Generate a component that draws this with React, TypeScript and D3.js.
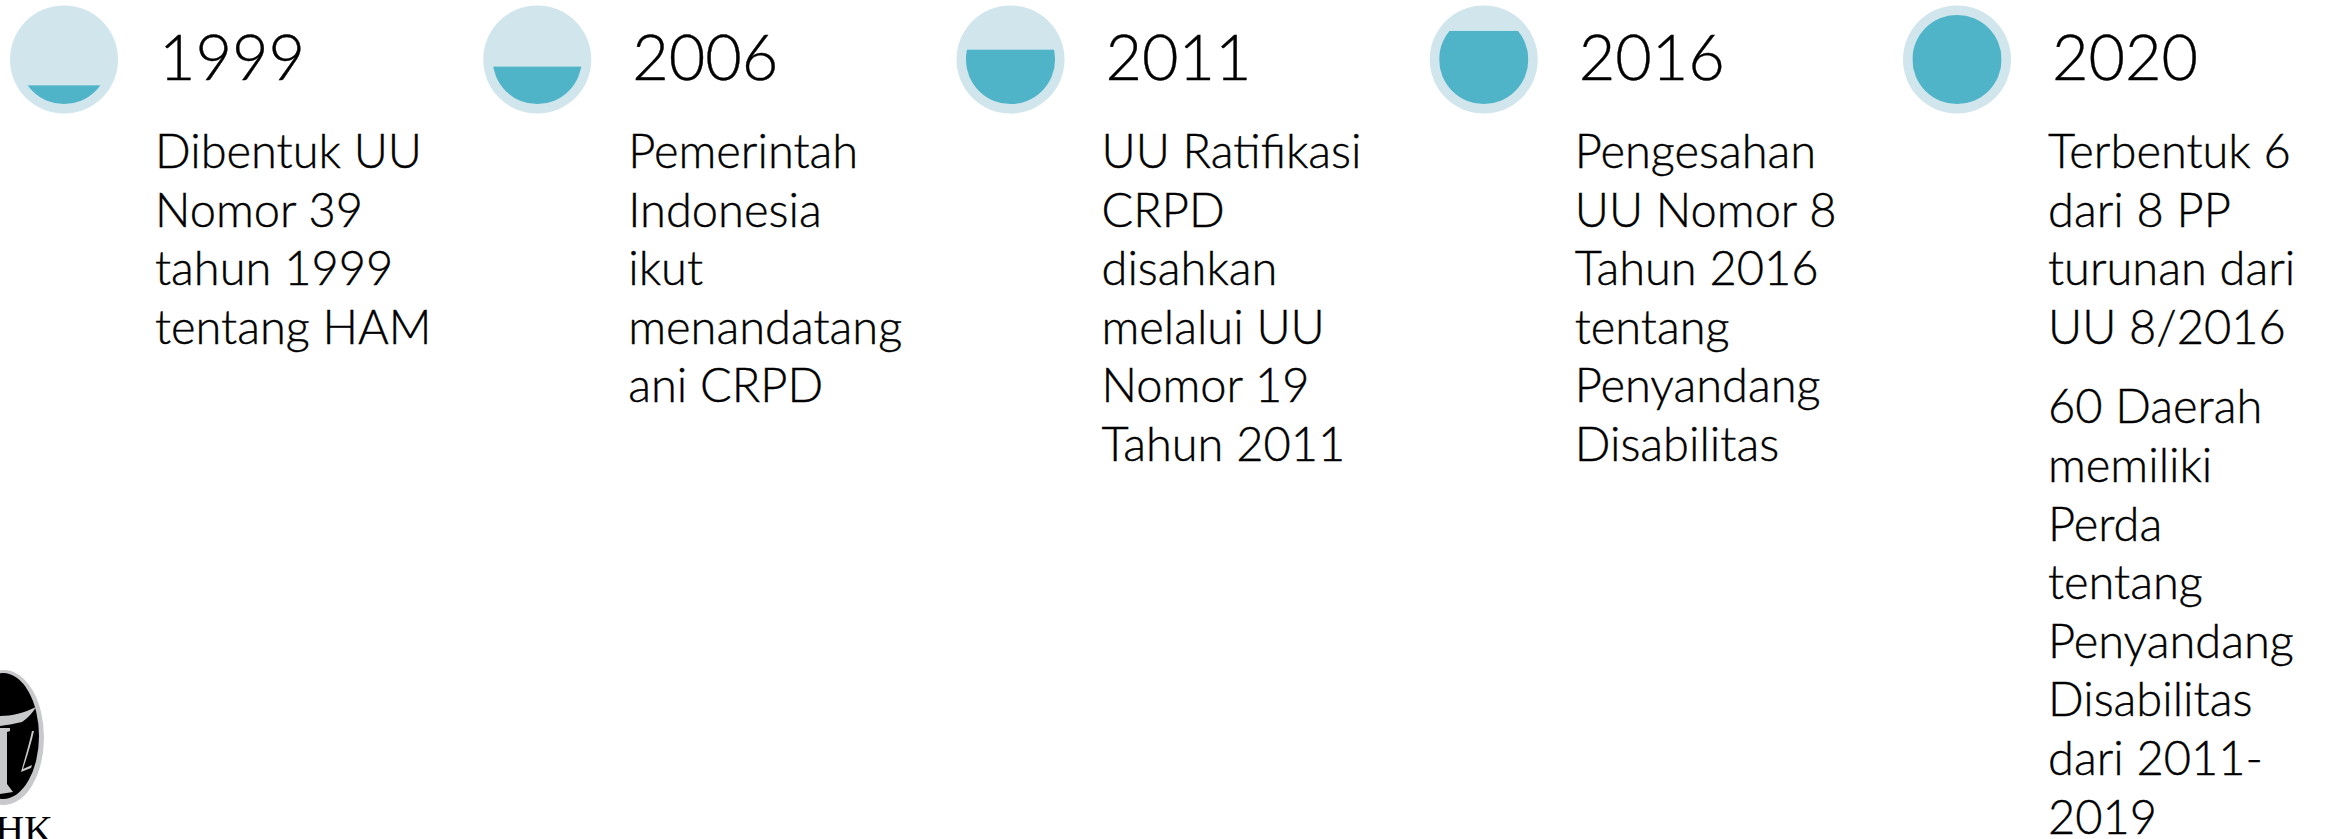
import React from "react";
import * as d3 from "d3";

const years = ["1999", "2006", "2011", "2016", "2020"];
const fillLevels = [0.21, 0.42, 0.61, 0.82, 1.0];
const descriptions: string[][][] = [
  [["Dibentuk UU", "Nomor 39", "tahun 1999", "tentang HAM"]],
  [["Pemerintah", "Indonesia", "ikut", "menandatang", "ani CRPD"]],
  [["UU Ratifikasi", "CRPD", "disahkan", "melalui UU", "Nomor 19", "Tahun 2011"]],
  [["Pengesahan", "UU Nomor 8", "Tahun 2016", "tentang", "Penyandang", "Disabilitas"]],
  [
    ["Terbentuk 6", "dari 8 PP", "turunan dari", "UU 8/2016"],
    ["60 Daerah", "memiliki", "Perda", "tentang", "Penyandang", "Disabilitas", "dari 2011-", "2019"],
  ],
];
const logoText = "PSHK";

const W = 2341;
const H = 839;
const CY = 59.5;
const R_OUT = 54;
const R_IN = 44.6;
const LINE = 58.6;
const PARA_GAP = 21;
const FONT = "Lato, 'Open Sans', sans-serif";

export default function App() {
  const x = d3.scaleLinear().domain([0, years.length - 1]).range([64, 1957]);
  const level = d3.scaleLinear().domain([0, 1]).range([CY + R_IN, CY - R_IN]);

  return (
    <svg
      width={W}
      height={H}
      viewBox={`0 0 ${W} ${H}`}
      style={{ position: "fixed", left: 0, top: 0, background: "#fff" }}
    >
      <defs>
        {years.map((y, i) => (
          <clipPath id={`inner-${i}`} key={y}>
            <circle cx={x(i)} cy={CY} r={R_IN} />
          </clipPath>
        ))}
      </defs>
      {years.map((y, i) => {
        const cx = x(i);
        let lineIdx = 0;
        let extra = 0;
        const lines: { t: string; yy: number }[] = [];
        descriptions[i].forEach((para, p) => {
          if (p > 0) extra += PARA_GAP;
          para.forEach((t) => {
            lines.push({ t, yy: 168 + lineIdx * LINE + extra });
            lineIdx++;
          });
        });
        const top = level(fillLevels[i]);
        return (
          <g key={y}>
            <circle cx={cx} cy={CY} r={R_OUT} fill="#d0e5ec" />
            <rect
              x={cx - R_IN}
              y={top}
              width={R_IN * 2}
              height={CY + R_IN - top + 1}
              fill="#50b4c8"
              clipPath={`url(#inner-${i})`}
            />
            <text
              x={cx + 95}
              y={80}
              fontFamily={FONT}
              fontWeight={300}
              fontSize={63}
              fill="#000"
              stroke="#000"
              strokeWidth={0.4}
            >
              {y}
            </text>
            {lines.map((l, k) => (
              <text
                key={k}
                x={cx + 91}
                y={l.yy}
                fontFamily={FONT}
                fontWeight={300}
                fontSize={47}
                fill="#000"
                stroke="#000"
                strokeWidth={0.4}
              >
                {l.t}
              </text>
            ))}
          </g>
        );
      })}
      {/* logo */}
      <g>
        <ellipse cx={4} cy={737.5} rx={40} ry={67.5} fill="#c8c9cb" />
        <ellipse cx={3} cy={736} rx={36} ry={63} fill="#000" />
        <path
          d="M0,716 C12,716 24,713 36,707 C33,712 28,718 22,722 C14,724 6,725 0,726 Z"
          fill="#c8c9cb"
        />
        <path d="M0,728 L10,728 L10,731 L7,732 L7,784 L13,792 L0,794 Z" fill="#c8c9cb" />
        <path
          d="M34,731 C31,744 27,757 23,769 L32,765 L31,768 L21,772 C25,758 29,744 32,731 Z"
          fill="#c8c9cb"
        />
        <text
          x={53}
          y={843}
          textAnchor="end"
          fontFamily="'Liberation Serif', 'DejaVu Serif', serif"
          fontSize={40}
          fill="#000"
        >
          {logoText}
        </text>
      </g>
    </svg>
  );
}
